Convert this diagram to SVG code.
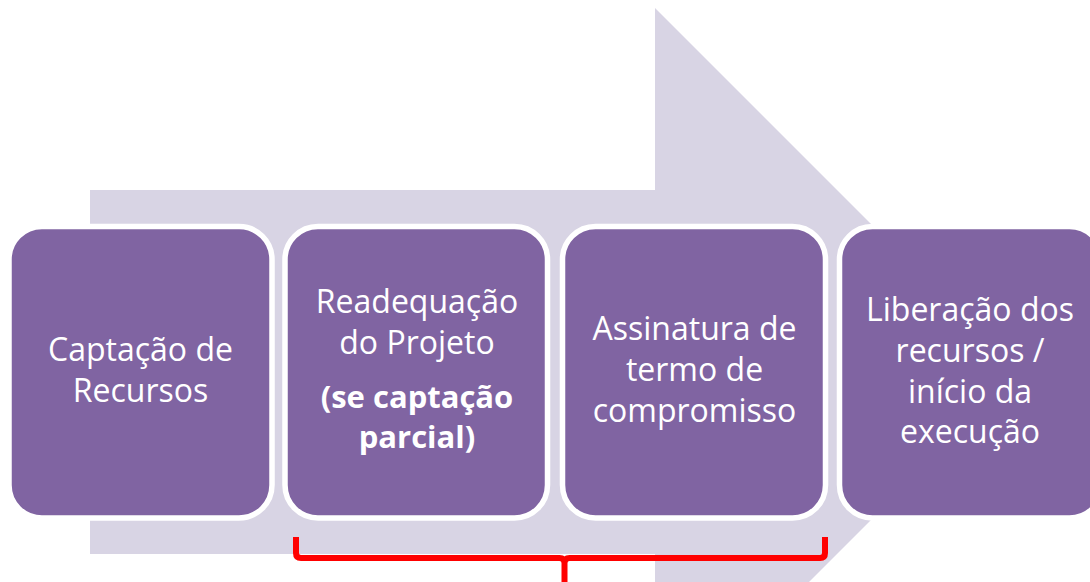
<svg xmlns="http://www.w3.org/2000/svg" width="1090" height="582" viewBox="0 0 1090 582">
  <style>
    .box { fill: #8064A2; stroke: #FFFFFF; stroke-width: 5.5; }
    .t { font-family: "Open Sans", "Liberation Sans", sans-serif; font-size: 32px; fill: #FFFFFF; text-anchor: middle; }
    .b { font-weight: bold; font-size: 31px; }
    .brace { fill: none; stroke: #FF0000; stroke-width: 6; stroke-linejoin: round; }
  </style>
  <rect width="1090" height="582" fill="#FFFFFF"/>
  <g id="arrow">
    <polygon points="90,190 655,190 655,8 1019,372 655,736 655,554 90,554" fill="#D8D4E4"/>
  </g>
  <g id="node1">
    <rect class="box" x="9" y="226.5" width="263" height="291.5" rx="33"/>
    <text class="t" x="140.5" y="361">Captação de</text>
    <text class="t" x="140.5" y="402">Recursos</text>
  </g>
  <g id="node2">
    <rect class="box" x="285" y="226.5" width="262.5" height="291.5" rx="33"/>
    <text class="t" x="417" y="313">Readequação</text>
    <text class="t" x="417" y="354">do Projeto</text>
    <text class="t b" x="417" y="408">(se captação</text>
    <text class="t b" x="417" y="448">parcial)</text>
  </g>
  <g id="node3">
    <rect class="box" x="562.5" y="226.5" width="263" height="291.5" rx="33"/>
    <text class="t" x="694.5" y="340">Assinatura de</text>
    <text class="t" x="694.5" y="381">termo de</text>
    <text class="t" x="694.5" y="422">compromisso</text>
  </g>
  <g id="node4">
    <rect class="box" x="839.5" y="226.5" width="263" height="291.5" rx="33"/>
    <text class="t" x="970" y="321">Liberação dos</text>
    <text class="t" x="970" y="362">recursos /</text>
    <text class="t" x="970" y="403">início da</text>
    <text class="t" x="970" y="443">execução</text>
  </g>
  <g id="connectors">
    <path class="brace" d="M296,537 L296,553 Q296,558 301,558 L559.5,558 Q564.5,558 564.5,563 L564.5,582 M564.5,563 Q564.5,558 569.5,558 L820,558 Q825,558 825,553 L825,537"/>
  </g>
</svg>
